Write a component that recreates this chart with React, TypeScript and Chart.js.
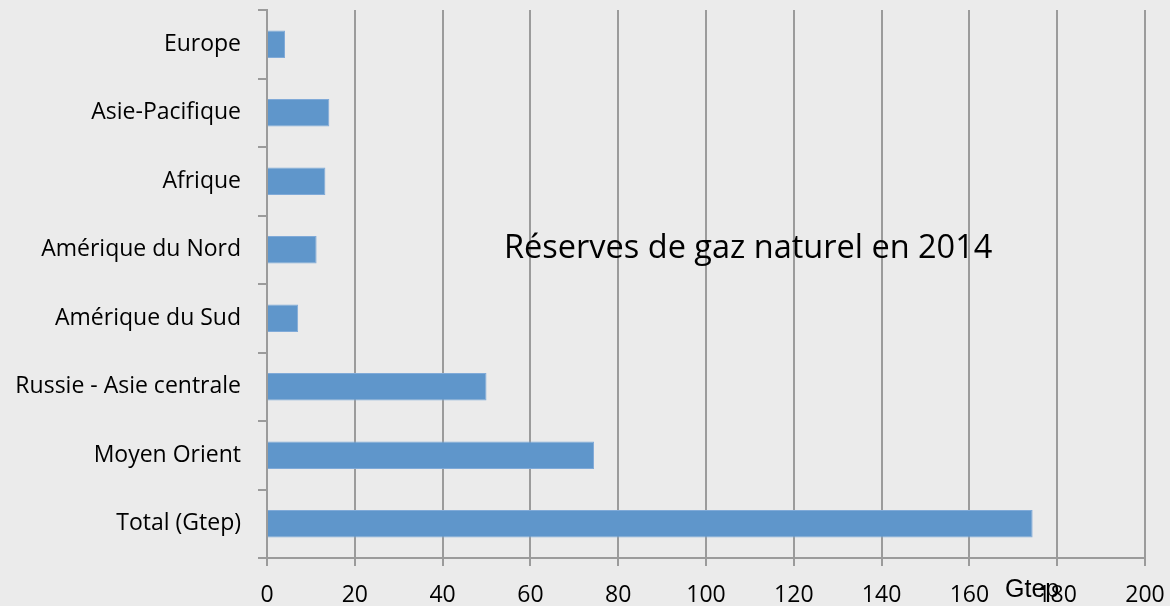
import React, { useEffect, useRef } from "react";
import { Chart, registerables } from "chart.js";

Chart.register(...registerables);

const categories = [
  "Europe",
  "Asie-Pacifique",
  "Afrique",
  "Amérique du Nord",
  "Amérique du Sud",
  "Russie - Asie centrale",
  "Moyen Orient",
  "Total (Gtep)",
];
const values = [4.1, 14.2, 13.3, 11.3, 7.1, 50.0, 74.5, 174.4];
const xTickMin = 0;
const xTickMax = 200;
const xTickStep = 20;
const chartTitle = "Réserves de gaz naturel en 2014";
const axisUnit = "Gtep";

const LABEL_FONT = "'Open Sans', sans-serif";
const GRID = "#9b9b9b";

function zeroPadding(scale: any) {
  scale.paddingTop = 0;
  scale.paddingBottom = 0;
  scale.paddingLeft = 0;
  scale.paddingRight = 0;
}

export default function App() {
  const ref = useRef<HTMLCanvasElement | null>(null);

  useEffect(() => {
    document.body.style.margin = "0";
    const canvas = ref.current;
    if (!canvas) return;

    const overlay = {
      id: "overlay",
      beforeDraw(chart: any) {
        const { ctx, width, height } = chart;
        ctx.save();
        ctx.fillStyle = "#ebebeb";
        ctx.fillRect(0, 0, width, height);
        ctx.restore();
      },
      afterDraw(chart: any) {
        const { ctx, chartArea } = chart;
        ctx.save();
        ctx.fillStyle = "#000";
        ctx.textAlign = "left";
        ctx.textBaseline = "alphabetic";
        ctx.font = `32.5px ${LABEL_FONT}`;
        ctx.fillText(chartTitle, chartArea.left + 237, chartArea.top + 248);
        ctx.font = "25px 'Liberation Sans', Arial, sans-serif";
        ctx.fillText(axisUnit, chartArea.left + 738, chartArea.bottom + 39);
        ctx.restore();
      },
    };

    const chart = new Chart(canvas, {
      type: "bar",
      data: {
        labels: categories,
        datasets: [
          {
            data: values,
            backgroundColor: "#5f96cb",
            borderColor: "#80aad8",
            borderWidth: 1,
            categoryPercentage: 1,
            barPercentage: 0.4,
          },
        ],
      },
      options: {
        indexAxis: "y",
        animation: false,
        responsive: false,
        maintainAspectRatio: false,
        layout: { padding: { top: 10, right: 25, left: 0, bottom: 0 } },
        plugins: {
          legend: { display: false },
          tooltip: { enabled: false },
          title: { display: false },
        },
        scales: {
          x: {
            type: "linear",
            min: xTickMin,
            max: xTickMax,
            ticks: {
              stepSize: xTickStep,
              color: "#000",
              padding: 16,
              font: { family: LABEL_FONT, size: 23 },
            },
            grid: {
              color: GRID,
              lineWidth: 2,
              tickLength: 8,
              drawTicks: true,
            },
            border: { display: true, color: GRID, width: 2 },
            afterFit(scale: any) {
              scale.height = 48;
              zeroPadding(scale);
            },
          },
          y: {
            type: "category",
            ticks: {
              color: "#000",
              padding: 17,
              font: { family: LABEL_FONT, size: 23 },
            },
            grid: {
              color: GRID,
              lineWidth: 2,
              tickLength: 9,
              drawOnChartArea: false,
              drawTicks: true,
            },
            border: { display: true, color: GRID, width: 2 },
            afterFit(scale: any) {
              scale.width = 267;
              zeroPadding(scale);
            },
          },
        },
      },
      plugins: [overlay],
    });

    return () => chart.destroy();
  }, []);

  return (
    <div style={{ width: 1170, height: 606 }}>
      <canvas ref={ref} width={1170} height={606} style={{ display: "block", width: 1170, height: 606 }} />
    </div>
  );
}
